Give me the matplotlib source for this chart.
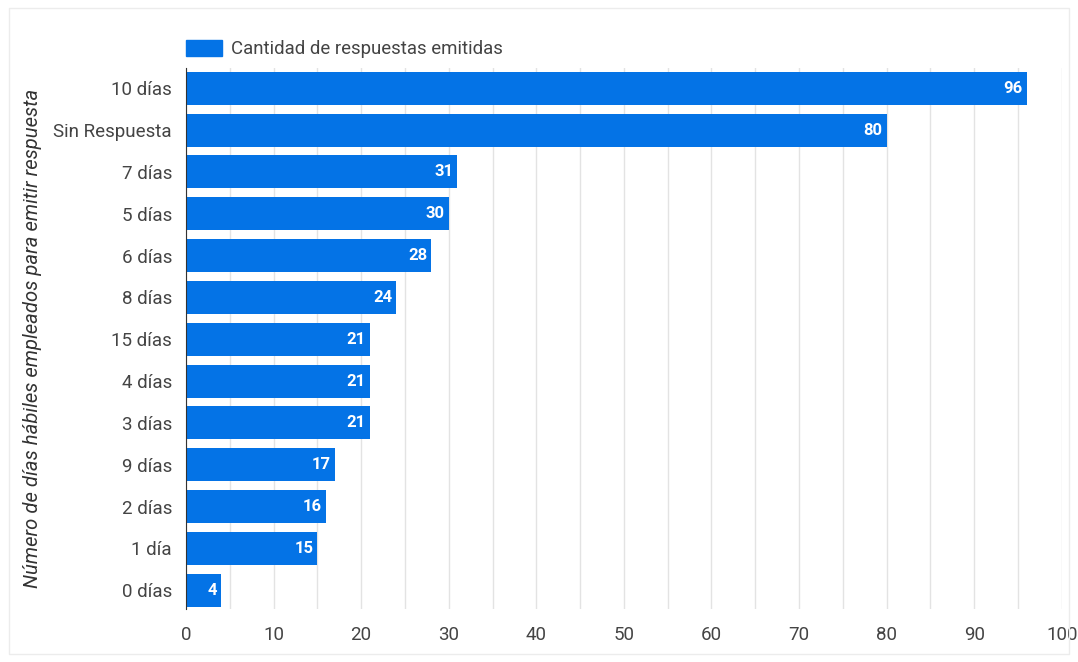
import matplotlib.pyplot as plt
from matplotlib.patches import Rectangle, Patch

categories = ["10 días", "Sin Respuesta", "7 días", "5 días", "6 días", "8 días",
              "15 días", "4 días", "3 días", "9 días", "2 días", "1 día", "0 días"]
counts = [96, 80, 31, 30, 28, 24, 21, 21, 21, 17, 16, 15, 4]
x_ticks = [0, 10, 20, 30, 40, 50, 60, 70, 80, 90, 100]

bar_color = "#0473e6"
text_color = "#444444"

plt.rcParams["font.family"] = ["Roboto", "DejaVu Sans"]

fig = plt.figure(figsize=(10.78, 6.62), dpi=100)
fig.patches.append(Rectangle((0.008, 0.012), 0.984, 0.976, transform=fig.transFigure,
                             fill=False, edgecolor="#ececec", linewidth=1))
ax = fig.add_axes([0.1725, 0.080, 0.8125, 0.817])

pos = list(range(len(categories)))
ax.barh(pos, counts, height=0.79, color=bar_color, zorder=3)

for y, v in zip(pos, counts):
    ax.text(v - 0.45, y, str(v), ha="right", va="center", color="white",
            fontsize=12, fontweight="bold", zorder=4)

ax.set_xlim(0, 100)
ax.set_ylim(12.45, -0.48)
ax.set_xticks(x_ticks)
ax.set_xticks(range(5, 100, 10), minor=True)
ax.set_yticks(pos)
ax.set_yticklabels(categories)
ax.tick_params(axis="both", which="both", length=0, labelsize=13.5, labelcolor=text_color)
ax.tick_params(axis="x", which="both", pad=12)
ax.tick_params(axis="y", pad=10)
ax.grid(axis="x", which="both", color="#e3e3e3", linewidth=1, zorder=0)

for side in ["top", "right", "bottom"]:
    ax.spines[side].set_visible(False)
ax.spines["left"].set_color("#333333")
ax.spines["left"].set_zorder(5)

ax.set_ylabel("Número de días hábiles empleados para emitir respuesta",
              fontsize=14.6, style="italic", color="#333333", labelpad=8)

ax.legend(handles=[Patch(color=bar_color, label="Cantidad de respuestas emitidas")],
          loc="lower left", bbox_to_anchor=(0.0, 1.018), frameon=False,
          fontsize=13.4, handlelength=1.94, handleheight=1.0, handletextpad=0.48,
          borderpad=0, borderaxespad=0, labelcolor="#444444")

fig.savefig("out.png", dpi=100)
